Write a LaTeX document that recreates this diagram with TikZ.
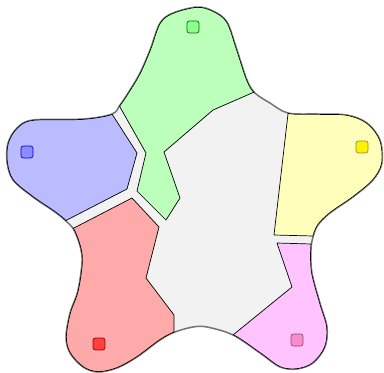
\documentclass[tikz,border=0pt]{standalone}
\begin{document}
\begin{tikzpicture}[x=1pt,y=-1pt,
  regionline/.style={draw=black,line width=0.7pt,line join=round},
  marker/.style={draw,line width=0.7pt,rounded corners=2.5pt,minimum size=12pt,inner sep=0pt},
]
\useasboundingbox (0,0) rectangle (384,373);
\definecolor{bgray}{HTML}{F2F2F2}
\definecolor{rgreen}{HTML}{BBFFBB}
\definecolor{rblue}{HTML}{BBBBFF}
\definecolor{rred}{HTML}{FFAAAA}
\definecolor{ryellow}{HTML}{FFFFBB}
\definecolor{rpink}{HTML}{FFC4FF}
\def\starpath{plot[smooth cycle,tension=0.55] coordinates {
(197,7)(213,11)(227,22)(237,50)(247,80)(255,93)(270,103)(288,113)(318,114)(347,115)(367,123)(380,140)(382,163)(373,180)(353,197)(330,213)(318,225)(313,237)(311,250)(312,273)(320,303)(327,327)(325,347)(313,363)(297,369)(280,367)(260,353)(233,335)(207,327)(193,327)(175,332)(160,340)(137,357)(117,368)(98,372)(83,367)(70,353)(66,337)(70,313)(78,290)(82,257)(75,232)(67,222)(55,212)(33,197)(13,180)(7,162)(8,143)(17,128)(33,120)(83,119)(112,114)(120,105)(130,90)(140,73)(150,50)(160,23)(173,13)}}
% star background
\path[fill=bgray,draw=black!55,line width=1.5pt] \starpath;
% regions
\def\blueP{(30,239)--(65,221)--(127,189)--(137,153)--(112,114)--(100,95)--(-10,90)--(-10,239)--cycle}
\def\greenP{(108,86)--(120,107)--(146,153)--(137,191)--(166,220)--(180,198)--(164,152)--(213,110)--(252,93)--(275,83)--(275,-10)--(108,-10)--cycle}
\def\redP{(45,243)--(72,229)--(132,198)--(159,227)--(146,278)--(174,315)--(174,345)--(174,390)--(30,390)--(30,243)--cycle}
\def\yellowP{(289,95)--(288,114)--(274,235)--(313,236)--(340,236)--(400,236)--(400,95)--cycle}
\def\pinkP{(215,350)--(233,335)--(292,287)--(277,243)--(311,244)--(340,244)--(400,244)--(400,390)--(215,390)--cycle}
\foreach \P/\C in {\blueP/rblue,\greenP/rgreen,\redP/rred,\yellowP/ryellow,\pinkP/rpink}{
  \begin{scope}
    \clip \starpath;
    \path[fill=\C,regionline] \P;
  \end{scope}
  \begin{scope}
    \clip \starpath;
    \clip \P;
    \draw[black,line width=1.4pt] \starpath;
  \end{scope}
}
% markers
\node[marker,fill=green!45,draw=green!45!black] (mg) at (193,27) {};
\node[marker,fill=blue!45,draw=blue] (mb) at (27,152) {};
\node[marker,fill=yellow,draw=yellow!50!black] (my) at (362,147) {};
\node[marker,fill=red!75,draw=red!60!black] (mr) at (99,344) {};
\node[marker,fill=magenta!45,draw=magenta!60!black] (mp) at (297,340) {};
\end{tikzpicture}
\end{document}
